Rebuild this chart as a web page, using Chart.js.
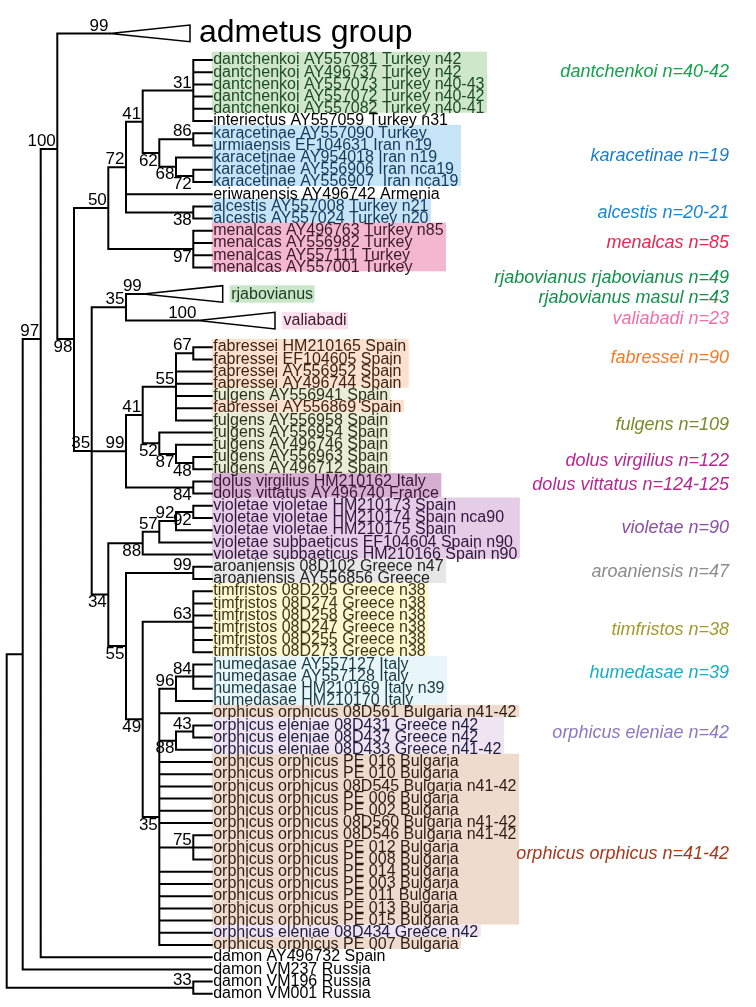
<!DOCTYPE html>
<html>
<head>
<meta charset="utf-8">
<script src="https://cdn.jsdelivr.net/npm/chart.js@4.4.1/dist/chart.umd.min.js"></script>
<style>
  html, body { margin: 0; padding: 0; background: #fff; }
  #wrap { position: relative; width: 756px; height: 1007px; }
</style>
</head>
<body>
<div id="wrap"><canvas id="tree"></canvas></div>
<script>
"use strict"

// tips of the tree, top to bottom (0, 19 and 20 are collapsed clades)
const tipNames = [
  "admetus group",
  "dantchenkoi AY557081 Turkey n42",
  "dantchenkoi AY496737 Turkey n42",
  "dantchenkoi AY557073 Turkey n40-43",
  "dantchenkoi AY557072 Turkey n40-42",
  "dantchenkoi AY557082 Turkey n40-41",
  "interiectus AY557059 Turkey n31",
  "karacetinae AY557090 Turkey",
  "urmiaensis EF104631 Iran n19",
  "karacetinae AY954018 Iran n19",
  "karacetinae AY556906 Iran nca19",
  "karacetinae AY556907  Iran nca19",
  "eriwanensis AY496742 Armenia",
  "alcestis AY557008 Turkey n21",
  "alcestis AY557024 Turkey n20",
  "menalcas AY496763 Turkey n85",
  "menalcas AY556982 Turkey",
  "menalcas AY557111 Turkey",
  "menalcas AY557001 Turkey",
  "rjabovianus",
  "valiabadi",
  "fabressei HM210165 Spain",
  "fabressei EF104605 Spain",
  "fabressei AY556952 Spain",
  "fabressei AY496744 Spain",
  "fulgens AY556941 Spain",
  "fabressei AY556869 Spain",
  "fulgens AY556958 Spain",
  "fulgens AY556954 Spain",
  "fulgens AY496746 Spain",
  "fulgens AY556963 Spain",
  "fulgens AY496712 Spain",
  "dolus virgilius HM210162 Italy",
  "dolus vittatus AY496740 France",
  "violetae violetae HM210173 Spain",
  "violetae violetae HM210174 Spain nca90",
  "violetae violetae HM210175 Spain",
  "violetae subbaeticus EF104604 Spain n90",
  "violetae subbaeticus HM210166 Spain n90",
  "aroaniensis 08D102 Greece n47",
  "aroaniensis AY556856 Greece",
  "timfristos 08D205 Greece n38",
  "timfristos 08D274 Greece n38",
  "timfristos 08D258 Greece n38",
  "timfristos 08D247 Greece n38",
  "timfristos 08D255 Greece n38",
  "timfristos 08D273 Greece n38",
  "humedasae AY557127 Italy",
  "humedasae AY557128 Italy",
  "humedasae HM210169 Italy n39",
  "humedasae HM210170 Italy",
  "orphicus orphicus 08D561 Bulgaria n41-42",
  "orphicus eleniae 08D431 Greece n42",
  "orphicus eleniae 08D437 Greece n42",
  "orphicus eleniae 08D433 Greece n41-42",
  "orphicus orphicus PE 016 Bulgaria",
  "orphicus orphicus PE 010 Bulgaria",
  "orphicus orphicus 08D545 Bulgaria n41-42",
  "orphicus orphicus PE 006 Bulgaria",
  "orphicus orphicus PE 002 Bulgaria",
  "orphicus orphicus 08D560 Bulgaria n41-42",
  "orphicus orphicus 08D546 Bulgaria n41-42",
  "orphicus orphicus PE 012 Bulgaria",
  "orphicus orphicus PE 008 Bulgaria",
  "orphicus orphicus PE 014 Bulgaria",
  "orphicus orphicus PE 003 Bulgaria",
  "orphicus orphicus PE 011 Bulgaria",
  "orphicus orphicus PE 013 Bulgaria",
  "orphicus orphicus PE 015 Bulgaria",
  "orphicus eleniae 08D434 Greece n42",
  "orphicus orphicus PE 007 Bulgaria",
  "damon AY496732 Spain",
  "damon VM237 Russia",
  "damon VM196 Russia",
  "damon VM001 Russia"
];

// taxon of each tip (used for the shading)
const tipGroups = [
  "adm",
  "dan","dan","dan","dan","dan","int",
  "kar","kar","kar","kar","kar","eri","alc","alc",
  "men","men","men","men",
  "rja","val",
  "fab","fab","fab","fab","ful","fab","ful","ful","ful","ful","ful",
  "dol","dol",
  "vio","vio","vio","vio","vio",
  "aro","aro",
  "tim","tim","tim","tim","tim","tim",
  "hum","hum","hum","hum",
  "orp","ele","ele","ele",
  "orp","orp","orp","orp","orp","orp","orp","orp","orp","orp","orp","orp","orp","orp",
  "ele","orp",
  "dam","dam","dam","dam"
];

// clade each tip hangs from
const tipParents = [
  "c100",
  "c31","c31","c31","c31","c31","c31",
  "c86","c86","c68","c72b","c72b",
  "c72","c38","c38",
  "c97b","c97b","c97b","c97b",
  "c35b","c35b",
  "c67","c67","c55","c55","c55","c55","c55",
  "c52","c87","c48","c48",
  "c84","c84",
  "c92b","c92b","c92","c57","c88",
  "c99b","c99b",
  "c63","c63","c63","c63","c63","c63",
  "c84b","c84b","c84b","c96",
  "c35c","c43","c43","c88b",
  "c35c","c35c","c35c","c35c","c35c","c35c",
  "c75","c75","c75",
  "c35c","c35c","c35c","c35c","c35c","c35c","c35c",
  "c97","c1","c33","c33"
];

// collapsed clades: tip index, bootstrap, depth of node, depth of triangle end
const collapsedTips    = [0, 19, 20];
const collapsedSupport = [99, 99, 100];
const collapsedDepth   = [110, 143.3, 198];
const collapsedEnd     = [190, 222.7, 275];

// internal nodes, parents listed before children
const cladeIds = ["root","c1","c97","c100","c98","c50","c72","c41","c31","c62","c86","c68","c72b","c38","c97b",
  "c35","c35b","c99","c41b","c55","c67","c52","c87","c48","c84","c34","c88","c57","c92","c92b",
  "c55b","c99b","c49","c63","c35c","c96","c84b","c88b","c43","c75","c33"];
const cladeParents = [null,"root","c1","c97","c100","c98","c50","c72","c41","c41","c62","c62","c68","c72","c50",
  "c98","c35","c35","c99","c41b","c55","c41b","c52","c87","c99","c35","c34","c88","c57","c92",
  "c34","c55b","c55b","c49","c49","c35c","c96","c35c","c88b","c35c","root"];
const cladeSupport = [null,null,97,100,98,50,72,41,31,62,86,68,72,38,97,
  35,35,99,41,55,67,52,87,48,84,34,88,57,92,92,
  55,99,49,63,35,96,84,88,43,75,33];
const cladeDepths = [6.7,22.7,40.7,57.3,74,108.3,126,142.7,193.3,159.3,193.3,176,193.3,193.3,193.3,
  91.7,126,126,142.7,176,193.3,159.3,176,193.3,193.3,108.3,142.7,159.3,176,193.3,
  126,193.3,142.7,193.3,159.3,176,193.3,176,193.3,193.3,193.3];
const TIP_DEPTH = 211.7;

// species labels on the right
const groupLabels = ["dantchenkoi n=40-42","karacetinae n=19","alcestis n=20-21","menalcas n=85",
  "rjabovianus rjabovianus n=49","rjabovianus masul n=43","valiabadi n=23","fabressei n=90",
  "fulgens n=109","dolus virgilius n=122","dolus vittatus n=124-125","violetae n=90",
  "aroaniensis n=47","timfristos n=38","humedasae n=39","orphicus eleniae n=42","orphicus orphicus n=41-42"];
const groupLabelColors = ["#14a24c","#1a7fc8","#1a86cf","#ec2450","#13904a","#13904a","#f06fa8","#f47a29",
  "#778a2c","#b22a90","#b22a90","#8a4fa6","#8c8c8c","#a39a2c","#17adc4","#8a7bc0","#a8391c"];

// ---- layout ----
const FONT = "'Liberation Sans', Arial, Helvetica, sans-serif";
const ROW0_PX = 60, ROW_PX = 12.2, CLADE_GAP = 2.18, TRI_HALF = 0.68;
const rowOverride = { c97: 22.87, c100: 7.3, c98: 22.87 };
const supportBelow = new Set(["c98","c62","c68","c72b","c38","c97b","c52","c87","c48","c84","c34","c88",
  "c92b","c55b","c49","c35c","c88b"]);
const groupLabelRows = [0.96,7.87,12.57,15.02,17.89,19.53,21.23,24.45,29.92,32.84,34.84,38.39,41.94,46.72,50.22,55.19,65.11];
const GROUP_LABEL_X = 729;
const groupStyle = {
  dan: { box: "#cde7c8", text: "#1d4a25" },
  kar: { box: "#c6e4f7", text: "#14395a" },
  alc: { box: "#c6e4f7", text: "#14395a" },
  men: { box: "#f3b7cf", text: "#3c1a2a" },
  rja: { box: "#c9e6c9", text: "#1d3a22" },
  val: { box: "#fbdfea", text: "#3c1a2a" },
  fab: { box: "#fde1cf", text: "#3d2416" },
  ful: { box: "#e9edd7", text: "#2c3118" },
  dol: { box: "#d5aed1", text: "#3b1637" },
  vio: { box: "#e6cde7", text: "#2e163b" },
  aro: { box: "#e6e6e6", text: "#222222" },
  tim: { box: "#fdf8d0", text: "#3b3616" },
  hum: { box: "#e9f6f9", text: "#163a40" },
  orp: { box: "#eedbcd", text: "#2d1d14" },
  ele: { box: "#eee4f2", text: "#1e1a3c" }
};

const isCollapsed = i => collapsedTips.indexOf(i) >= 0;
const tipDepth = i => isCollapsed(i) ? collapsedDepth[collapsedTips.indexOf(i)] : TIP_DEPTH;

// rows of the tips
const tipRow = [];
tipNames.forEach((n, i) => {
  if (i === 0) tipRow.push(-CLADE_GAP);
  else tipRow.push(tipRow[i - 1] + (isCollapsed(i) || isCollapsed(i - 1) ? CLADE_GAP : 1));
});

// rows of clades and the line segments of the tree
const kids = {};
cladeIds.forEach(id => kids[id] = []);
tipNames.forEach((n, i) => kids[tipParents[i]].push({ row: tipRow[i], depth: tipDepth(i) }));
const cladeRow = {};
for (let k = cladeIds.length - 1; k >= 0; k--) {
  const id = cladeIds[k];
  const rows = kids[id].map(c => c.row);
  const row = id in rowOverride ? rowOverride[id] : (Math.min(...rows) + Math.max(...rows)) / 2;
  cladeRow[id] = row;
  if (cladeParents[k]) kids[cladeParents[k]].push({ row: row, depth: cladeDepths[k] });
}

const treeLines = [];
const gap = { x: NaN, y: NaN };
cladeIds.forEach((id, k) => {
  const d = cladeDepths[k];
  const rows = kids[id].map(c => c.row);
  treeLines.push({ x: d, y: Math.min(...rows) }, { x: d, y: Math.max(...rows) }, gap);
  kids[id].forEach(c => treeLines.push({ x: d, y: c.row }, { x: c.depth, y: c.row }, gap));
});

const triLines = [];
collapsedTips.forEach((t, j) => {
  const r = tipRow[t];
  triLines.push({ x: collapsedDepth[j], y: r }, { x: collapsedEnd[j], y: r - TRI_HALF },
    { x: collapsedEnd[j], y: r + TRI_HALF }, { x: collapsedDepth[j], y: r }, gap);
});

const treeText = {
  id: "treeText",
  beforeDatasetsDraw(chart) {
    const { ctx, scales: { x, y } } = chart;
    ctx.save();
    ctx.font = "16px " + FONT;
    let i = 0;
    while (i < tipNames.length) {
      const g = tipGroups[i];
      let j = i;
      while (j + 1 < tipNames.length && tipGroups[j + 1] === g) j++;
      const st = groupStyle[g];
      if (st && !isCollapsed(i)) {
        let w = 0;
        for (let k = i; k <= j; k++) w = Math.max(w, ctx.measureText(tipNames[k]).width);
        const left = x.getPixelForValue(TIP_DEPTH);
        const top = y.getPixelForValue(tipRow[i]) - 8.3;
        const bottom = y.getPixelForValue(tipRow[j]) + 3.9;
        ctx.fillStyle = st.box;
        ctx.fillRect(left, top, w + 4, bottom - top);
      }
      i = j + 1;
    }
    // boxes next to the collapsed clades
    collapsedTips.forEach((t, j) => {
      const st = groupStyle[tipGroups[t]];
      if (!st) return;
      const w = ctx.measureText(tipNames[t]).width;
      const left = x.getPixelForValue(collapsedEnd[j]) + 7;
      const cy = y.getPixelForValue(tipRow[t]);
      ctx.fillStyle = st.box;
      ctx.fillRect(left, cy - 8.7, w + 3, 17.4);
    });
    ctx.restore();
  },
  afterDatasetsDraw(chart) {
    const { ctx, scales: { x, y } } = chart;
    ctx.save();
    // tip names
    ctx.textAlign = "left";
    ctx.textBaseline = "alphabetic";
    tipNames.forEach((name, i) => {
      const st = groupStyle[tipGroups[i]];
      ctx.fillStyle = st ? st.text : "#000";
      if (isCollapsed(i)) {
        const j = collapsedTips.indexOf(i);
        const big = tipGroups[i] === "adm";
        ctx.font = (big ? "32px " : "16px ") + FONT;
        ctx.textBaseline = "middle";
        ctx.fillText(name, x.getPixelForValue(collapsedEnd[j]) + (big ? 9 : 8.5), y.getPixelForValue(tipRow[i]) + (big ? 0 : 0.5));
        ctx.textBaseline = "alphabetic";
      } else {
        ctx.font = "16px " + FONT;
        ctx.fillText(name, x.getPixelForValue(TIP_DEPTH) + 1.5, y.getPixelForValue(tipRow[i]) + 4.3);
      }
    });
    // bootstrap values
    ctx.font = "17px " + FONT;
    ctx.fillStyle = "#000";
    ctx.textAlign = "right";
    ctx.textBaseline = "middle";
    cladeIds.forEach((id, k) => {
      if (cladeSupport[k] == null) return;
      const py = y.getPixelForValue(cladeRow[id]) + (supportBelow.has(id) ? 8 : -7.5);
      ctx.fillText(String(cladeSupport[k]), x.getPixelForValue(cladeDepths[k]) - 1.5, py);
    });
    collapsedTips.forEach((t, j) => {
      ctx.fillText(String(collapsedSupport[j]), x.getPixelForValue(collapsedDepth[j]) - 1.5,
        y.getPixelForValue(tipRow[t]) - 7.5);
    });
    // species labels
    ctx.font = "italic 18px " + FONT;
    groupLabels.forEach((lab, i) => {
      ctx.fillStyle = groupLabelColors[i];
      ctx.fillText(lab, x.getPixelForValue(GROUP_LABEL_X), y.getPixelForValue(groupLabelRows[i]));
    });
    ctx.restore();
  }
};

new Chart(document.getElementById("tree"), {
  type: "line",
  data: {
    datasets: [
      {
        data: treeLines,
        borderColor: "#000",
        borderWidth: 2,
        borderCapStyle: "square",
        pointRadius: 0,
        spanGaps: false,
        tension: 0,
        fill: false,
        clip: false
      },
      {
        data: triLines,
        borderColor: "#000",
        borderWidth: 1.5,
        borderJoinStyle: "miter",
        pointRadius: 0,
        spanGaps: false,
        tension: 0,
        fill: false,
        clip: false
      }
    ]
  },
  options: {
    responsive: true,
    maintainAspectRatio: false,
    animation: false,
    events: [],
    layout: { padding: 0 },
    plugins: { legend: { display: false }, tooltip: { enabled: false } },
    scales: {
      x: { type: "linear", min: 0, max: 756, display: false },
      y: {
        type: "linear",
        reverse: true,
        min: -ROW0_PX / ROW_PX,
        max: (1007 - ROW0_PX) / ROW_PX,
        display: false
      }
    }
  },
  plugins: [treeText]
});
</script>
</body>
</html>
